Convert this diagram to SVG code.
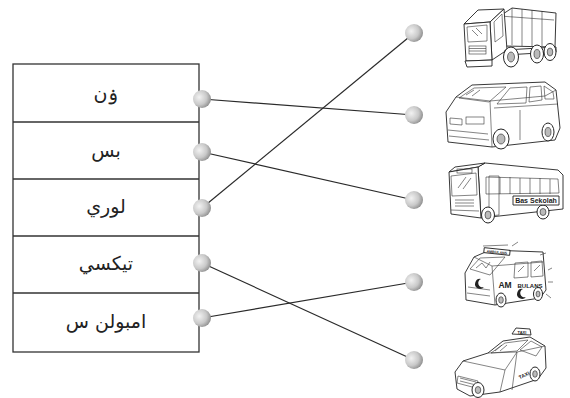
<svg xmlns="http://www.w3.org/2000/svg" width="570" height="398" viewBox="0 0 570 398">
<defs>
<radialGradient id="ballg" cx="0.35" cy="0.4" r="0.75">
<stop offset="0" stop-color="#f2f2f2"/>
<stop offset="0.55" stop-color="#c9c9c9"/>
<stop offset="1" stop-color="#7d7d7d"/>
</radialGradient>
</defs>
<style>
.cell{fill:#fff;stroke:#333;stroke-width:1.3}
.lbl{font-family:"DejaVu Sans","Noto Sans",sans-serif;font-size:19px;fill:#222;text-anchor:middle}
.conn{stroke:#2a2a2a;stroke-width:1.2;fill:none}
.ball{fill:url(#ballg)}
.v{fill:#fff;stroke:#222;stroke-width:0.9;stroke-linejoin:round}
.vl{fill:none;stroke:#333;stroke-width:0.6}
.wh{fill:#fff;stroke:#222;stroke-width:1}
.hub{fill:#bbb;stroke:#222;stroke-width:0.6}
.vt{font-family:"Liberation Sans",Arial,sans-serif;font-weight:bold;fill:#222;text-anchor:middle}
</style>
<rect width="570" height="398" fill="#fff"/>

<g id="table">
<rect class="cell" x="13" y="64" width="186" height="288"/>
<line class="cell" x1="13" y1="122" x2="199" y2="122"/>
<line class="cell" x1="13" y1="179" x2="199" y2="179"/>
<line class="cell" x1="13" y1="236" x2="199" y2="236"/>
<line class="cell" x1="13" y1="293" x2="199" y2="293"/>
</g>
<g id="row-van"><text class="lbl" x="106" y="100">ۏن</text></g>
<g id="row-bas"><text class="lbl" x="106" y="157">بس</text></g>
<g id="row-lori"><text class="lbl" x="106" y="213">لوري</text></g>
<g id="row-teksi"><text class="lbl" x="106" y="270">تيکسي</text></g>
<g id="row-ambulans"><text class="lbl" x="106" y="328">امبولن س</text></g>

<g id="connectors">
<line class="conn" x1="202" y1="99" x2="414" y2="115"/>
<line class="conn" x1="202" y1="152" x2="414" y2="200"/>
<line class="conn" x1="202" y1="208" x2="414" y2="33"/>
<line class="conn" x1="202" y1="263" x2="414" y2="360"/>
<line class="conn" x1="202" y1="318" x2="414" y2="282"/>
</g>

<g id="balls-left">
<circle class="ball" cx="202" cy="99" r="9"/>
<circle class="ball" cx="202" cy="152" r="9"/>
<circle class="ball" cx="202" cy="208" r="9"/>
<circle class="ball" cx="202" cy="263" r="9"/>
<circle class="ball" cx="202" cy="318" r="9"/>
</g>
<g id="balls-right">
<circle class="ball" cx="414" cy="33" r="9"/>
<circle class="ball" cx="414" cy="115" r="9"/>
<circle class="ball" cx="414" cy="200" r="9"/>
<circle class="ball" cx="414" cy="282" r="9"/>
<circle class="ball" cx="414" cy="360" r="9"/>
</g>

<g id="truck">
<path class="v" d="M500,16 L512,8 L556,13 L555,47 L503,46 Z"/>
<path class="vl" d="M512,8 L512,45 M522,9 L522,46 M532,10 L532,46 M542,11 L542,46 M500,16 L554,20"/>
<path class="v" d="M464,24 L478,10 L504,9 L490,22 Z"/>
<path class="v" d="M490,22 L504,9 L507,50 L492,60 Z"/>
<path class="v" d="M464,24 L490,22 L492,60 L466,61 Z"/>
<path class="vl" d="M467,27 L487,25 L487,41 L468,42 Z M472,30 L478,36 M476,28 L482,34 M494,22 L502,14 L503,36 L495,42 Z"/>
<rect class="vl" x="469" y="46" width="17" height="8"/>
<path class="vl" d="M469,48.5 L486,48.5 M469,51 L486,51"/>
<path class="v" d="M465,61 L492,60 L492,66 L467,67 Z"/>
<path class="v" d="M505,50 L556,47 L556,52 L505,55 Z"/>
<ellipse class="wh" cx="511" cy="57" rx="7.5" ry="10"/>
<ellipse class="hub" cx="511" cy="57" rx="3.5" ry="5"/>
<ellipse class="wh" cx="537" cy="54" rx="6.5" ry="9"/>
<ellipse class="hub" cx="537" cy="54" rx="3" ry="4.5"/>
<ellipse class="wh" cx="550" cy="52" rx="6" ry="8.5"/>
<ellipse class="hub" cx="550" cy="52" rx="2.8" ry="4"/>
</g>

<g id="van">
<path class="v" d="M446,112 L456,97 L472,85 L545,82 L556,90 L560,128 L555,140 L492,147 L448,142 Z"/>
<path class="vl" d="M456,97 L490,101 L545,96 L556,90 M490,101 L492,147"/>
<path class="vl" d="M459,98 L474,88 L506,87 L489,102 Z M466,95 L474,90 M472,96 L480,90"/>
<path class="vl" d="M510,88 L527,87 L526,103 L497,104 Z M530,87 L541,86 L542,100 L529,102 Z M544,86 L553,92 L554,99 L545,99 Z"/>
<path class="vl" d="M520,110 L520,140 M494,108 L558,104"/>
<rect class="vl" x="466" y="117" width="18" height="7"/>
<path class="vl" d="M450,118 L462,119 L462,125 L450,124 Z M448,130 L488,134 M449,136 L489,140"/>
<ellipse class="wh" cx="501" cy="139" rx="8" ry="10"/>
<ellipse class="hub" cx="501" cy="139" rx="4" ry="5"/>
<ellipse class="wh" cx="548" cy="132" rx="6" ry="9"/>
<ellipse class="hub" cx="548" cy="132" rx="3" ry="4.5"/>
</g>

<g id="bus">
<path class="v" d="M478,167 L485,163 L558,170 L563,175 L563,209 L481,218 Z"/>
<path class="v" d="M449,172 L455,167 L485,163 L478,167 Z"/>
<path class="v" d="M449,172 L478,167 L481,218 L451,214 Z"/>
<rect class="vl" x="457" y="169" width="15" height="4"/>
<path class="vl" d="M451,176 L476,173 L477,195 L452,196 Z M458,188 L466,177 M463,189 L471,178"/>
<path class="vl" d="M455,200 L474,200 M455,203 L474,203 M455,206 L474,206 M451,210 L479,211"/>
<path class="vl" d="M486,177 L558,179 L559,193 L486,194 Z M500,177 L500,194 M510,177 L510,194 M520,178 L520,194 M530,178 L530,194 M540,178 L540,194 M550,179 L550,194"/>
<path class="vl" d="M489,176 L499,176 L499,215 L489,216 Z"/>
<ellipse class="wh" cx="488" cy="215" rx="6.5" ry="8"/>
<ellipse class="hub" cx="488" cy="215" rx="3" ry="4"/>
<ellipse class="wh" cx="543" cy="212" rx="6" ry="7"/>
<ellipse class="hub" cx="543" cy="212" rx="3" ry="3.5"/>
<rect class="v" x="513" y="196" width="46" height="9"/>
<text class="vt" x="536" y="203.3" font-size="7">Bas Sekolah</text>
</g>

<g id="ambulance">
<path class="v" d="M465,273 L474,257 L490,250 L543,252 L546,290 L540,298 L495,305 L466,300 Z"/>
<path class="vl" d="M474,257 L492,266 L543,262 M492,266 L495,305"/>
<path class="vl" d="M470,269 L480,258 L505,257 L490,275 Z M476,268 L482,263 L486,268 L490,262"/>
<path class="vl" d="M515,263 L528,262 L528,277 L514,278 Z M531,262 L542,261 L543,276 L531,277 Z M518,272 L524,266 M534,271 L540,265"/>
<rect class="v" x="484" y="249" width="26" height="5" transform="rotate(6 497 251)"/>
<text class="vt" x="497" y="253.5" font-size="3.6" transform="rotate(6 497 251)">AMBULANS</text>
<path class="vl" d="M483,246 L508,245 M512,246 L518,242 M540,255 L546,253 M548,270 L552,268 M548,282 L553,282 M546,294 L551,298"/>
<path d="M481,279 a5,5 0 1 0 3,8 a4,4 0 1 1 -3,-8 Z" fill="#222"/>
<path d="M523,289 a5,5 0 1 0 3,8 a4,4 0 1 1 -3,-8 Z" fill="#222"/>
<text class="vt" x="505" y="288" font-size="8.5">AM</text>
<text class="vt" x="530" y="288" font-size="6">BULANS</text>
<path class="vl" d="M468,287 L490,290 M467,293 L490,296"/>
<ellipse class="wh" cx="501" cy="300" rx="5" ry="7"/>
<ellipse class="hub" cx="501" cy="300" rx="2.3" ry="3.3"/>
<ellipse class="wh" cx="538" cy="294" rx="4.5" ry="6.5"/>
<ellipse class="hub" cx="538" cy="294" rx="2" ry="3"/>
</g>

<g id="taxi">
<path class="v" d="M455,372 L463,361 L488,353 L503,341 L530,337 L545,346 L546,368 L538,379 L500,392 L470,396 L457,389 Z"/>
<path class="vl" d="M488,353 L517,352 L545,346 M517,352 L512,390"/>
<path class="vl" d="M491,353 L505,343 L528,340 L517,351 Z M495,351 L502,345 M500,351 L507,345"/>
<path class="vl" d="M520,350 L531,341 L542,347 L536,356 Z"/>
<path class="vl" d="M463,361 L505,370 L517,352 M505,370 L500,392"/>
<path class="vl" d="M458,376 L478,381 L476,388 L457,383 Z M460,378 L476,382 M460,381 L476,385"/>
<path class="v" d="M512,334 L516,328 L530,329 L531,335 Z"/>
<text class="vt" x="522" y="334" font-size="4">TAXI</text>
<text class="vt" x="524" y="377" font-size="5" transform="rotate(-25 524 375)">TAXI</text>
<ellipse class="wh" cx="478" cy="390" rx="6" ry="7.5"/>
<ellipse class="hub" cx="478" cy="390" rx="2.8" ry="3.5"/>
<ellipse class="wh" cx="535" cy="374" rx="5" ry="7"/>
<ellipse class="hub" cx="535" cy="374" rx="2.3" ry="3.3"/>
</g>
</svg>
